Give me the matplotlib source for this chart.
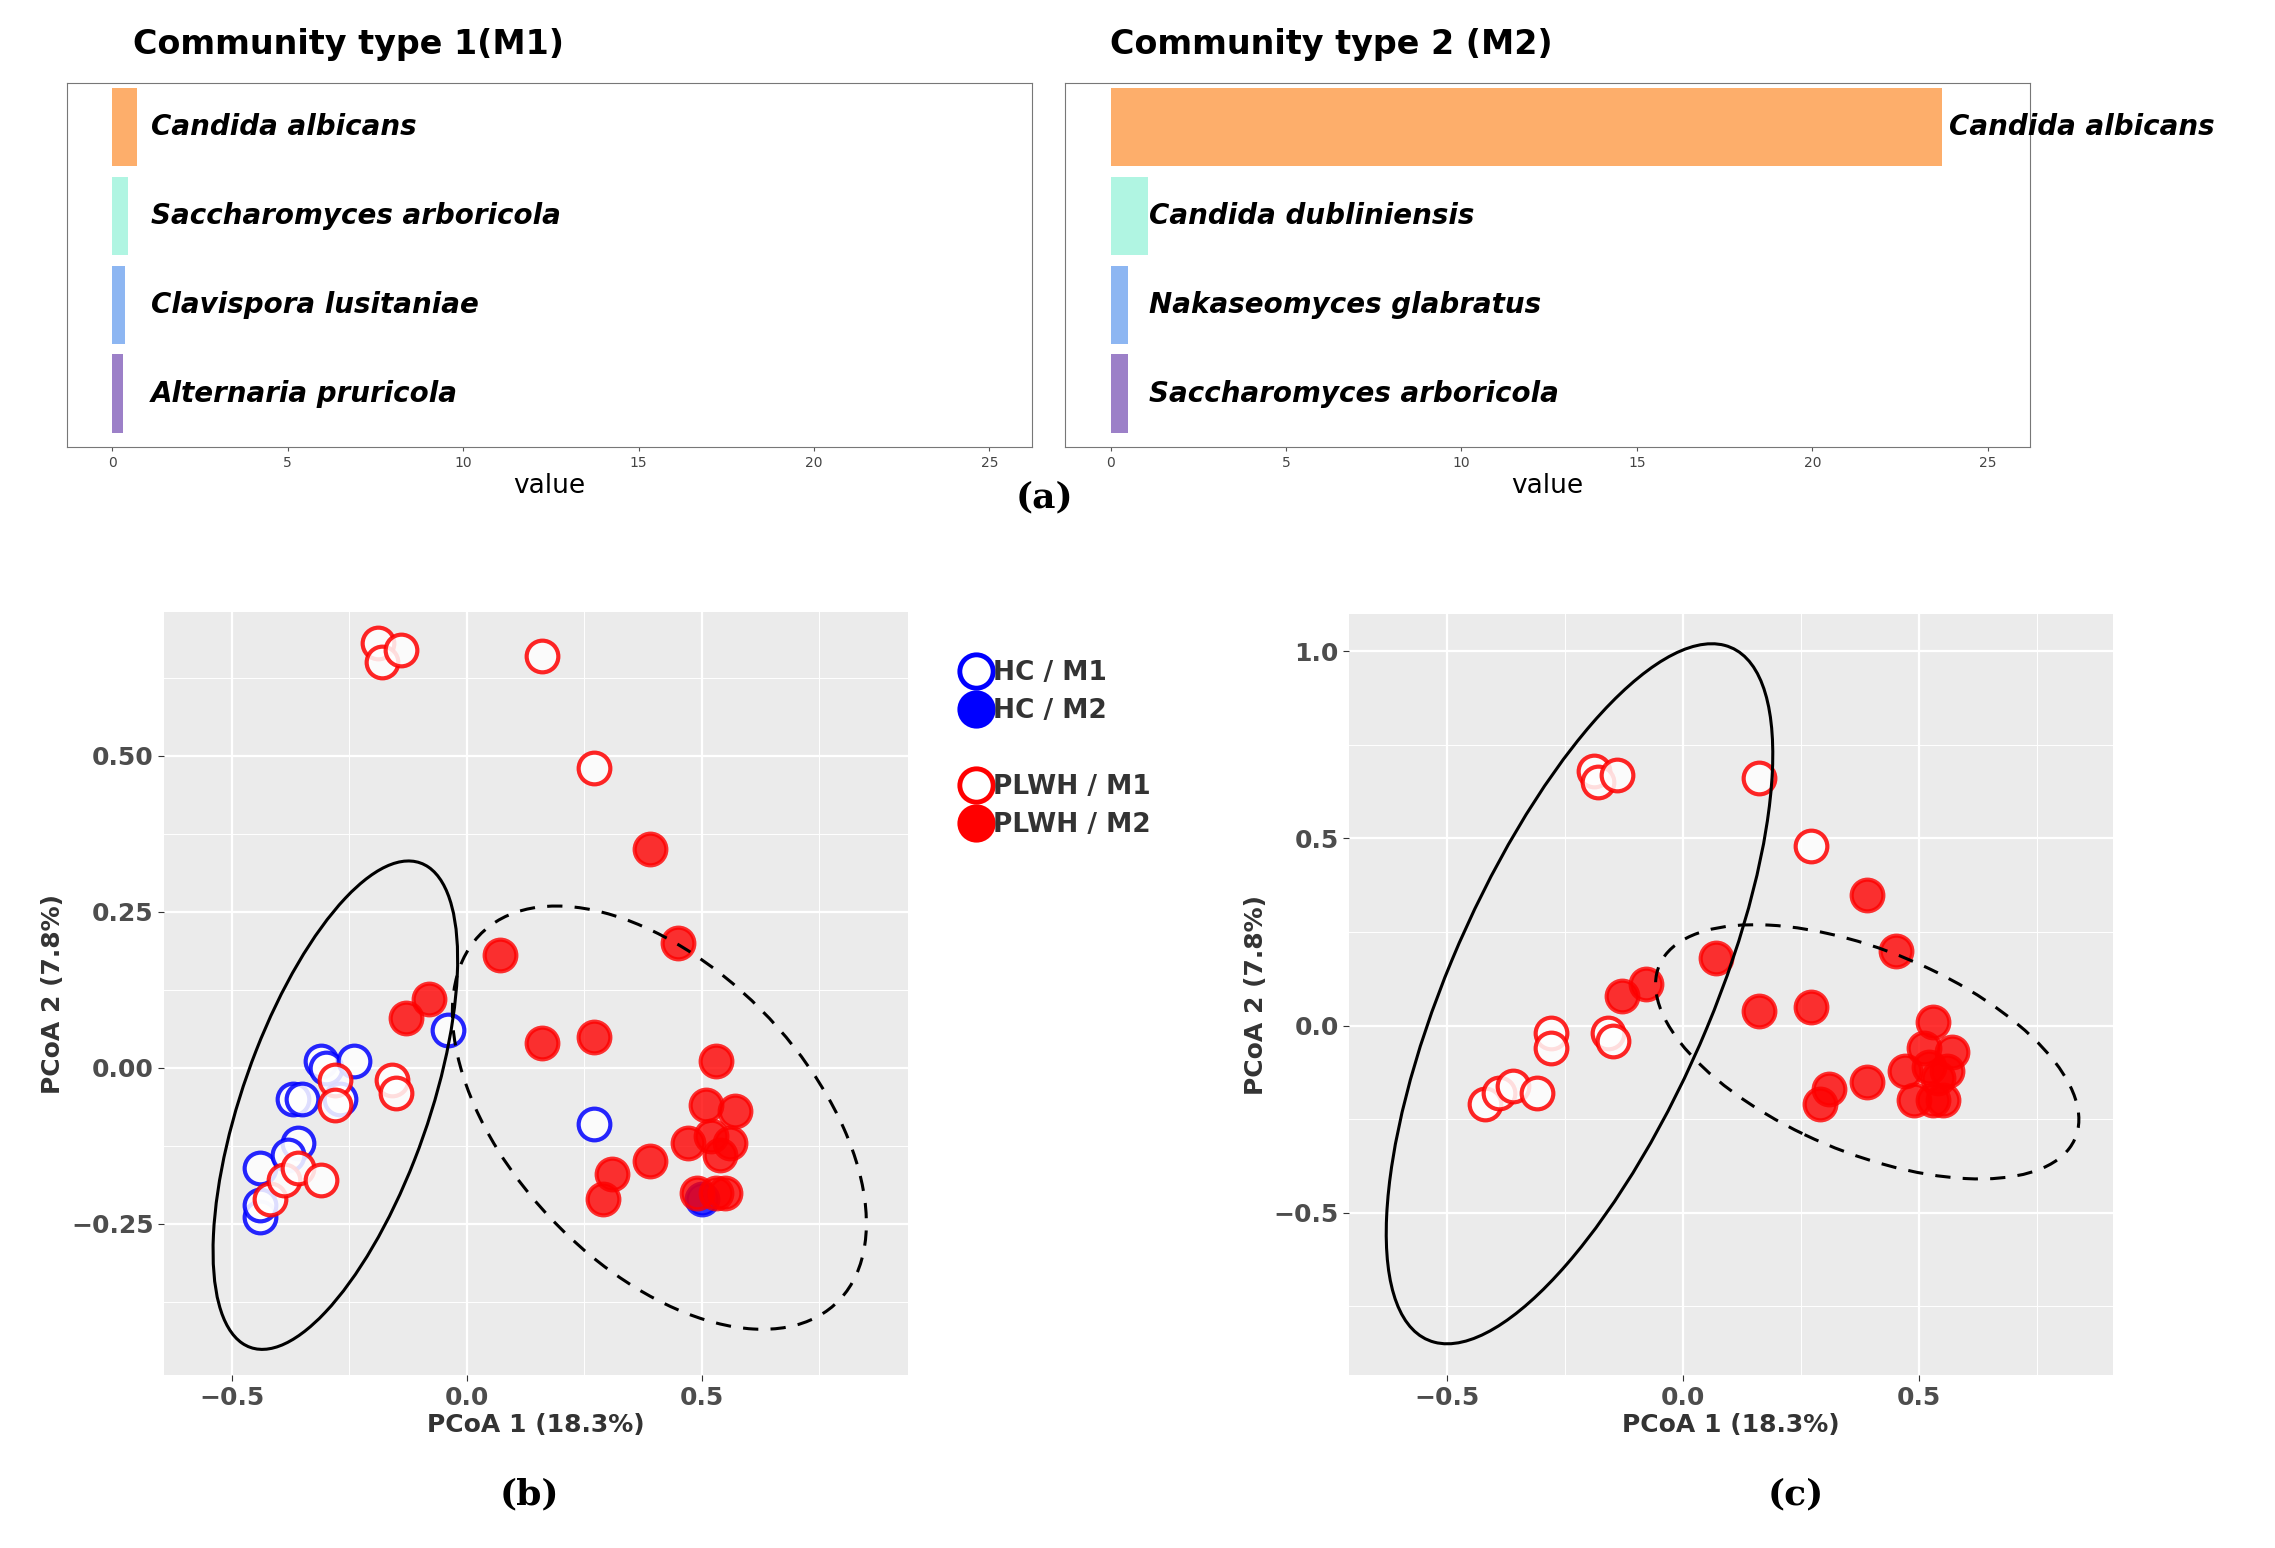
import matplotlib
matplotlib.use("Agg")
import matplotlib.pyplot as plt
from matplotlib.patches import Ellipse
from matplotlib.lines import Line2D
import numpy as np

# ---- data ----
m1_species = ["Candida albicans", "Saccharomyces arboricola", "Clavispora lusitaniae", "Alternaria pruricola"]
m1_values = [0.7, 0.45, 0.37, 0.3]
m2_species = ["Candida albicans", "Candida dubliniensis", "Nakaseomyces glabratus", "Saccharomyces arboricola"]
m2_values = [23.7, 1.07, 0.5, 0.5]
bar_colors = ["#FDAE6B", "#B0F5E2", "#8DB6F2", "#9C80C8"]

plwh_m1_x = [-0.19, -0.18, -0.14, 0.16, 0.27, -0.28, -0.28, -0.16, -0.15, -0.42, -0.39, -0.36, -0.31]
plwh_m1_y = [0.68, 0.65, 0.67, 0.66, 0.48, -0.02, -0.06, -0.02, -0.04, -0.21, -0.18, -0.16, -0.18]
plwh_m2_x = [0.07, -0.13, -0.08, 0.16, 0.27, 0.39, 0.45, 0.53, 0.51, 0.57, 0.47, 0.52, 0.56, 0.54, 0.39, 0.31, 0.29, 0.49, 0.53, 0.55]
plwh_m2_y = [0.18, 0.08, 0.11, 0.04, 0.05, 0.35, 0.20, 0.01, -0.06, -0.07, -0.12, -0.11, -0.12, -0.14, -0.15, -0.17, -0.21, -0.20, -0.20, -0.20]
hc_m1_x = [-0.31, -0.30, -0.24, -0.37, -0.35, -0.27, -0.36, -0.44, -0.38, -0.44, -0.44, -0.04, 0.27]
hc_m1_y = [0.01, 0.00, 0.01, -0.05, -0.05, -0.05, -0.12, -0.16, -0.14, -0.24, -0.22, 0.06, -0.09]
hc_m2_x = [0.50]
hc_m2_y = [-0.21]

W, H = 2275, 1548
fig = plt.figure(figsize=(W/100, H/100), dpi=100)
FW, FH = 1568, 1067
def rect(l, r, t, b):
    return [l/FW, 1-b/FH, (r-l)/FW, (b-t)/FH]

# ---- bar panels ----
def bar_panel(r, species, values, title, title_x):
    ax = fig.add_axes(r)
    y = np.arange(len(species))
    ax.barh(y, values, height=0.88, color=bar_colors)
    for yi, v, s in zip(y, values, species):
        xt = v + 0.2 if v > 5 else 1.1
        ax.text(xt, yi, s, style="italic", fontweight="bold", fontsize=20, va="center", ha="left", clip_on=False)
    ax.set_ylim(3.6, -0.5)
    ax.set_xlim(-1.3, 26.2)
    ax.set_xticks([0, 5, 10, 15, 20, 25])
    ax.tick_params(axis="x", labelsize=10, length=3, color="#555555", labelcolor="#444444")
    ax.set_yticks([])
    for sp in ax.spines.values():
        sp.set_color("#777777")
    ax.set_xlabel("value", fontsize=19, labelpad=2)
    fig.text(title_x/FW, 1-31/FH, title, fontsize=24, fontweight="bold", va="center", ha="left")
    return ax

bar_panel(rect(46, 711, 57, 308), m1_species, m1_values, "Community type 1(M1)", 92)
bar_panel(rect(734, 1399, 57, 308), m2_species, m2_values, "Community type 2 (M2)", 765)
fig.text(720/FW, 1-343/FH, "(a)", fontsize=26, fontweight="bold", family="DejaVu Serif", ha="center", va="center")

# ---- PCoA panels ----
def gg_axes(r, xlim, ylim, yticks, yminor):
    ax = fig.add_axes(r)
    ax.set_facecolor("#EBEBEB")
    ax.set_xlim(*xlim); ax.set_ylim(*ylim)
    ax.set_xticks([-0.5, 0.0, 0.5])
    ax.set_xticks([-0.25, 0.25, 0.75], minor=True)
    ax.set_yticks(yticks)
    ax.set_yticks(yminor, minor=True)
    ax.grid(True, which="major", color="white", lw=1.6)
    ax.grid(True, which="minor", color="white", lw=0.7)
    ax.set_axisbelow(True)
    for sp in ax.spines.values():
        sp.set_visible(False)
    ax.tick_params(which="major", labelsize=18, color="#333333", labelcolor="#4D4D4D", length=4)
    ax.tick_params(which="minor", length=0)
    ax.set_xlabel("PCoA 1 (18.3%)", fontsize=18, fontweight="bold", color="#333333", labelpad=2)
    ax.set_ylabel("PCoA 2 (7.8%)", fontsize=18, fontweight="bold", color="#333333")
    return ax

S = 520
def open_pts(ax, x, y, c):
    ax.scatter(x, y, s=S, facecolor="white", edgecolor=c, linewidths=3, alpha=0.85, zorder=3)
def fill_pts(ax, x, y, c):
    ax.scatter(x, y, s=S, facecolor=c, edgecolor=c, linewidths=3, alpha=0.8, zorder=3)

ax3 = gg_axes(rect(113, 626, 422, 948), (-0.645, 0.94), (-0.493, 0.73),
              [-0.25, 0.0, 0.25, 0.5], [-0.375, -0.125, 0.125, 0.375, 0.625])
ax3.set_yticklabels(["\u22120.25", "0.00", "0.25", "0.50"])
ax3.set_xticklabels(["\u22120.5", "0.0", "0.5"])
for lab in ax3.get_xticklabels() + ax3.get_yticklabels():
    lab.set_fontweight("bold")
open_pts(ax3, hc_m1_x, hc_m1_y, "blue")
fill_pts(ax3, hc_m2_x, hc_m2_y, "blue")
open_pts(ax3, plwh_m1_x, plwh_m1_y, "red")
fill_pts(ax3, plwh_m2_x, plwh_m2_y, "red")
ax3.add_patch(Ellipse((-0.28, -0.06), 2*0.43, 2*0.19, angle=62.5, fill=False, ec="black", lw=2.2, zorder=4))
ax3.add_patch(Ellipse((0.41, -0.08), 2*0.489, 2*0.265, angle=-31, fill=False, ec="black", lw=2.2, ls=(0, (5, 4)), zorder=4))
fig.text(365/FW, 1-1030/FH, "(b)", fontsize=26, fontweight="bold", family="DejaVu Serif", ha="center", va="center")

# legend
handles = [
    Line2D([], [], ls="", marker="o", ms=24, mfc="white", mec="blue", mew=3.5, label="HC / M1"),
    Line2D([], [], ls="", marker="o", ms=24, mfc="blue", mec="blue", mew=3.5, label="HC / M2"),
    Line2D([], [], ls="", marker="", label=" "),
    Line2D([], [], ls="", marker="o", ms=24, mfc="white", mec="red", mew=3.5, label="PLWH / M1"),
    Line2D([], [], ls="", marker="o", ms=24, mfc="red", mec="red", mew=3.5, label="PLWH / M2"),
]
leg = fig.legend(handles=handles, loc="upper left", bbox_to_anchor=(652/FW, 1-446/FH), frameon=False,
                 prop={"size": 19, "weight": "bold"}, handletextpad=0.0, labelspacing=0.45, borderpad=0,
                 handlelength=1.3)
for t in leg.get_texts():
    t.set_color("#333333")

ax4 = gg_axes(rect(930, 1456, 423, 948), (-0.708, 0.91), (-0.934, 1.10),
              [-0.5, 0.0, 0.5, 1.0], [-0.75, -0.25, 0.25, 0.75])
ax4.set_yticklabels(["\u22120.5", "0.0", "0.5", "1.0"])
ax4.set_xticklabels(["\u22120.5", "0.0", "0.5"])
for lab in ax4.get_xticklabels() + ax4.get_yticklabels():
    lab.set_fontweight("bold")
open_pts(ax4, plwh_m1_x, plwh_m1_y, "red")
fill_pts(ax4, plwh_m2_x, plwh_m2_y, "red")
ax4.add_patch(Ellipse((-0.22, 0.085), 2*0.98, 2*0.285, angle=71.7, fill=False, ec="black", lw=2.2, zorder=4))
ax4.add_patch(Ellipse((0.39, -0.07), 2*0.50, 2*0.258, angle=-31, fill=False, ec="black", lw=2.2, ls=(0, (5, 4)), zorder=4))
fig.text(1238/FW, 1-1030/FH, "(c)", fontsize=26, fontweight="bold", family="DejaVu Serif", ha="center", va="center")

fig.savefig("out.png", dpi=100, facecolor="white")
